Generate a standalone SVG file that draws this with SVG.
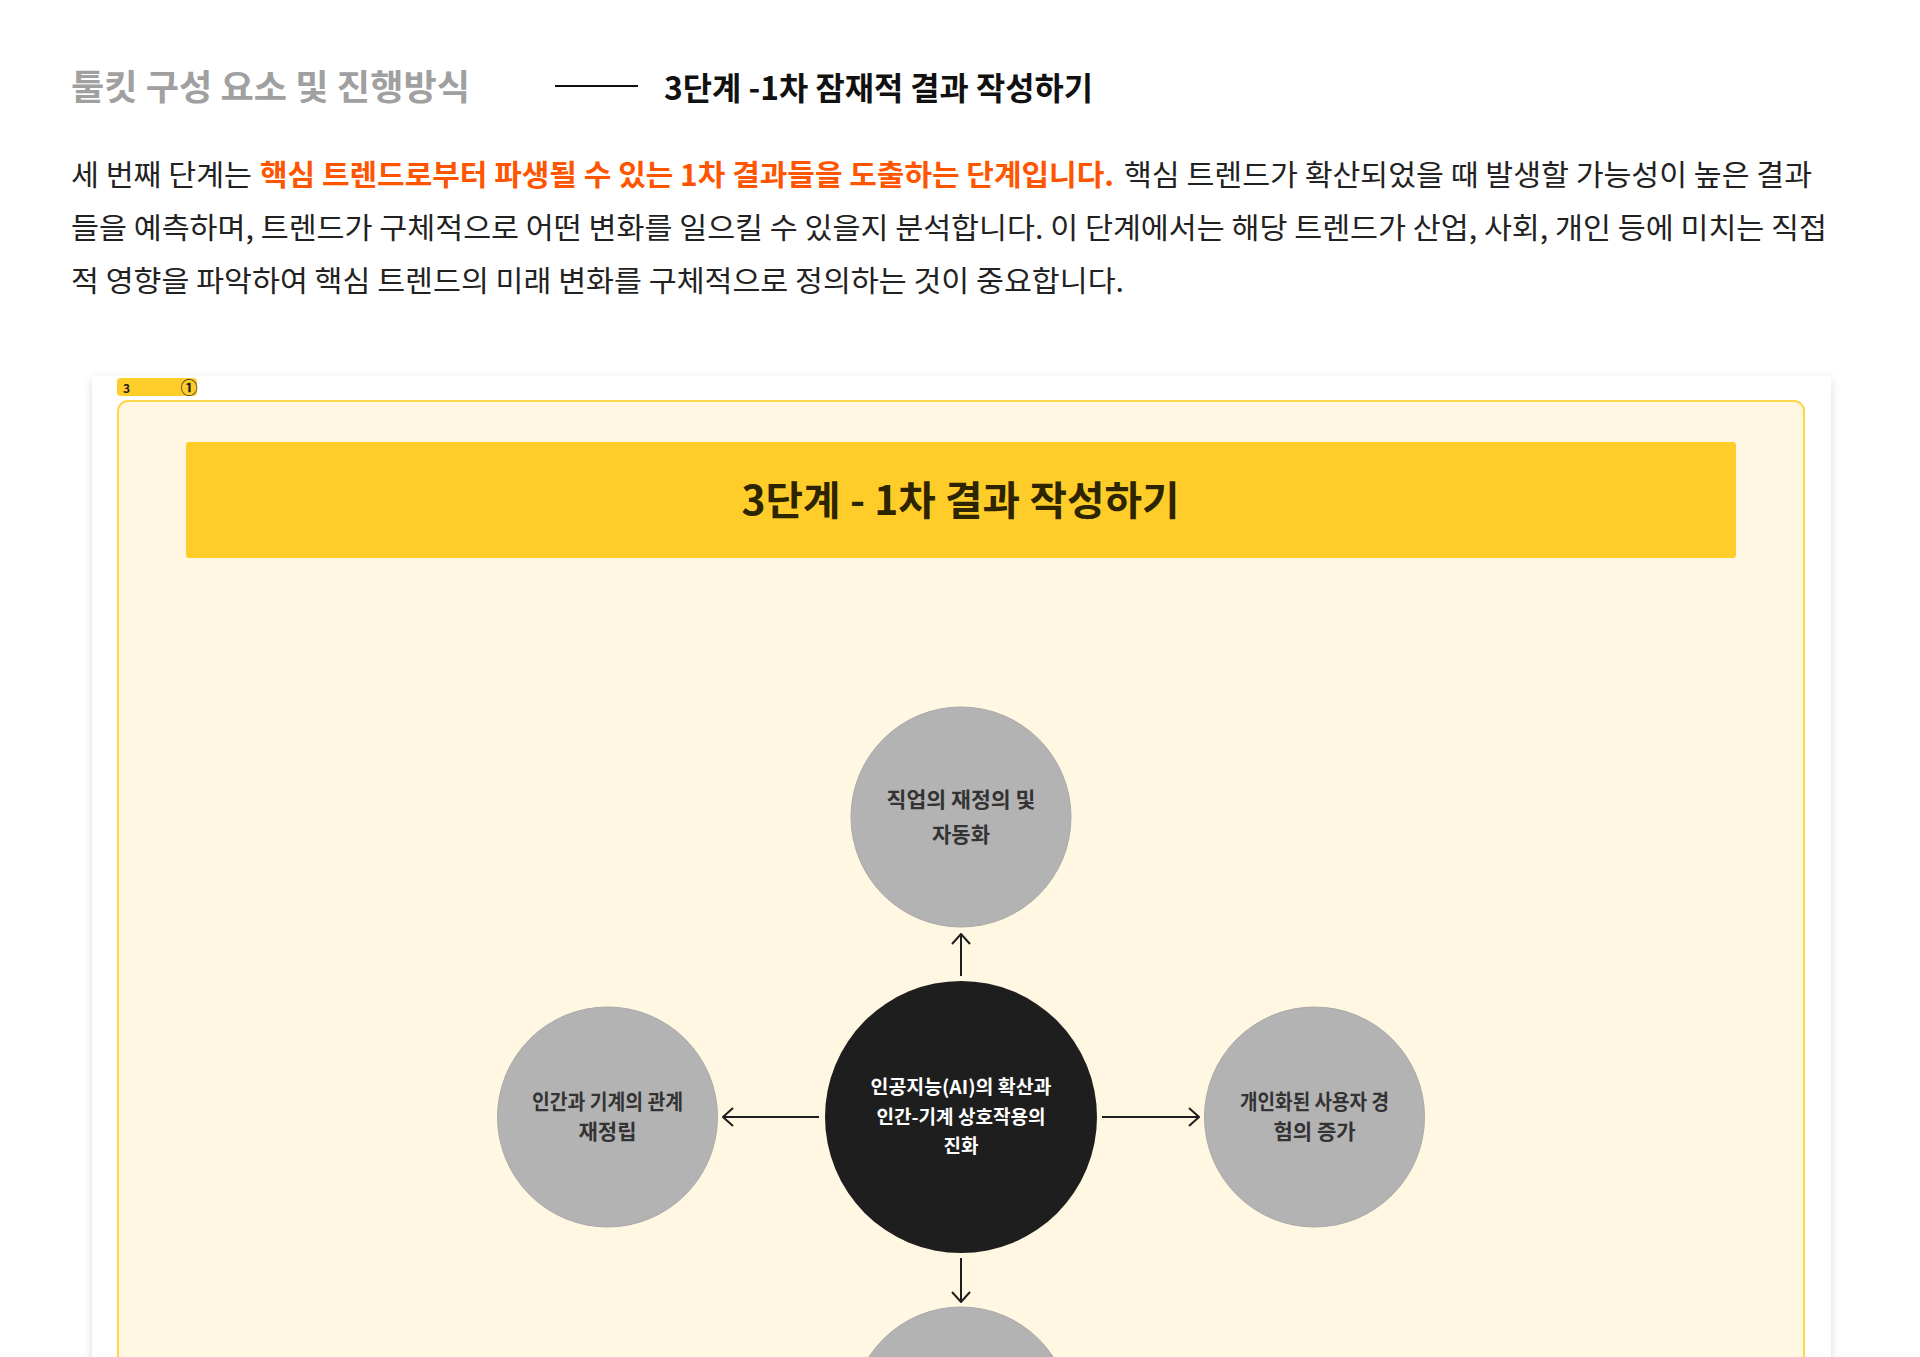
<svg xmlns="http://www.w3.org/2000/svg" width="1920" height="1357" viewBox="0 0 1920 1357">
<defs>
<style>
text{font-family:"Noto Sans CJK KR","Noto Sans",sans-serif;}
.para{font-size:29px;fill:#222;}
.hl{fill:#FF5500;font-weight:700;}
.node-gray{fill:#B3B3B3;stroke:#AAAAAA;stroke-width:1;}
.node-dark{fill:#1E1E1E;}
.lbl{font-size:21px;font-weight:700;fill:#333;text-anchor:middle;}
.lbl-w{font-size:19px;font-weight:700;fill:#fff;text-anchor:middle;}
.conn{stroke:#1E1E1E;stroke-width:2;fill:none;}
</style>
<marker id="arr" viewBox="0 0 12 20" refX="11" refY="10" markerWidth="12" markerHeight="20" markerUnits="userSpaceOnUse" orient="auto">
<path d="M1,1 L11,10 L1,19" fill="none" stroke="#1E1E1E" stroke-width="2"/>
</marker>
<filter id="sh" x="-5%" y="-5%" width="110%" height="110%">
<feDropShadow dx="0" dy="3" stdDeviation="5" flood-color="#000" flood-opacity="0.14"/>
</filter>
</defs>
<rect width="1920" height="1357" fill="#fff"/>

<g id="header">
<text x="71" y="100" font-size="35" font-weight="700" fill="#A0A0A0" textLength="399" lengthAdjust="spacingAndGlyphs">툴킷 구성 요소 및 진행방식</text>
<line x1="555" y1="86" x2="638" y2="86" stroke="#111" stroke-width="2"/>
<text x="664" y="99.5" font-size="32" font-weight="700" fill="#111" textLength="429" lengthAdjust="spacingAndGlyphs">3단계 -1차 잠재적 결과 작성하기</text>
</g>

<g id="description">
<text class="para" y="186"><tspan x="71" textLength="181" lengthAdjust="spacingAndGlyphs">세 번째 단계는</tspan><tspan class="hl" x="260" textLength="854" lengthAdjust="spacingAndGlyphs">핵심 트렌드로부터 파생될 수 있는 1차 결과들을 도출하는 단계입니다.</tspan><tspan x="1124" textLength="688" lengthAdjust="spacingAndGlyphs">핵심 트렌드가 확산되었을 때 발생할 가능성이 높은 결과</tspan></text>
<text class="para" x="71" y="238.5" textLength="1756" lengthAdjust="spacingAndGlyphs">들을 예측하며, 트렌드가 구체적으로 어떤 변화를 일으킬 수 있을지 분석합니다. 이 단계에서는 해당 트렌드가 산업, 사회, 개인 등에 미치는 직접</text>
<text class="para" x="71" y="291.5" textLength="1053" lengthAdjust="spacingAndGlyphs">적 영향을 파악하여 핵심 트렌드의 미래 변화를 구체적으로 정의하는 것이 중요합니다.</text>
</g>

<g id="card">
<rect x="92" y="376" width="1739" height="1100" fill="#fff" filter="url(#sh)"/>
</g>

<g id="tag">
<rect x="117" y="378" width="80" height="18" rx="4" fill="#FFCD29"/>
<text x="123" y="393" font-size="12" font-weight="700" fill="#222">3</text>
<text x="189" y="394" font-size="17" font-weight="700" fill="#222" text-anchor="middle">①</text>
</g>

<g id="frame">
<rect x="118" y="401" width="1686" height="1000" rx="10" fill="#FFF7E1" stroke="#FFD54A" stroke-width="2"/>
</g>

<g id="banner">
<rect x="186" y="442" width="1550" height="116" rx="3" fill="#FFCD29"/>
<text x="960.5" y="515" font-size="40" font-weight="700" fill="#2D2400" text-anchor="middle" textLength="438" lengthAdjust="spacingAndGlyphs">3단계 - 1차 결과 작성하기</text>
</g>

<g id="connectors">
<line class="conn" x1="961" y1="976" x2="961" y2="934" marker-end="url(#arr)"/>
<line class="conn" x1="819" y1="1117" x2="723" y2="1117" marker-end="url(#arr)"/>
<line class="conn" x1="1102" y1="1117" x2="1199" y2="1117" marker-end="url(#arr)"/>
<line class="conn" x1="961" y1="1258" x2="961" y2="1302" marker-end="url(#arr)"/>
</g>

<g id="node-center">
<circle class="node-dark" cx="961" cy="1117" r="136"/>
<text class="lbl-w" x="961" y="1094" textLength="181" lengthAdjust="spacingAndGlyphs">인공지능(AI)의 확산과</text>
<text class="lbl-w" x="961" y="1124" textLength="169" lengthAdjust="spacingAndGlyphs">인간-기계 상호작용의</text>
<text class="lbl-w" x="961" y="1153">진화</text>
</g>

<g id="node-top">
<circle class="node-gray" cx="961" cy="817" r="110"/>
<text class="lbl" x="961" y="807" textLength="149" lengthAdjust="spacingAndGlyphs">직업의 재정의 및</text>
<text class="lbl" x="961" y="841.5">자동화</text>
</g>

<g id="node-left">
<circle class="node-gray" cx="607.5" cy="1117" r="110"/>
<text class="lbl" x="607.5" y="1109" textLength="151" lengthAdjust="spacingAndGlyphs">인간과 기계의 관계</text>
<text class="lbl" x="607.5" y="1138.5">재정립</text>
</g>

<g id="node-right">
<circle class="node-gray" cx="1314.5" cy="1117" r="110"/>
<text class="lbl" x="1314.5" y="1109" textLength="149" lengthAdjust="spacingAndGlyphs">개인화된 사용자 경</text>
<text class="lbl" x="1314.5" y="1138.5">험의 증가</text>
</g>

<g id="node-bottom">
<circle class="node-gray" cx="961" cy="1417" r="110"/>
</g>
</svg>
